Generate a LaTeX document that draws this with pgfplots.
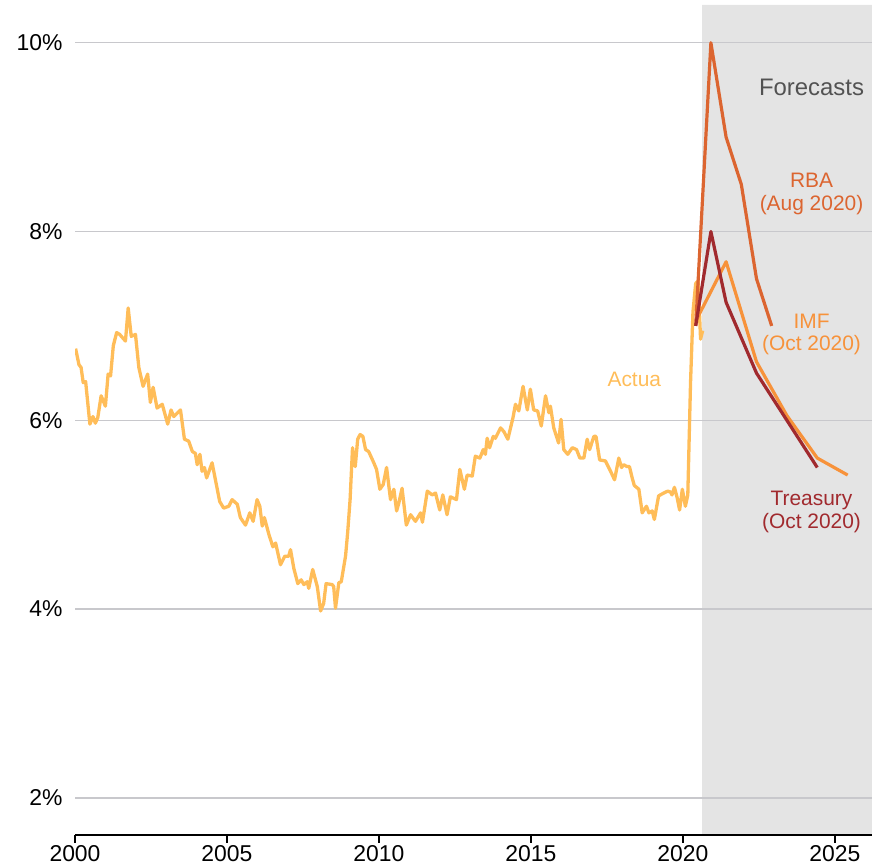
\documentclass[border=0pt]{standalone}
\usepackage{pgfplots}
\pgfplotsset{compat=1.18}
\usepackage{pgfplotstable}
\usepackage{fontspec}
\setmainfont{Liberation Sans}
\definecolor{actual}{HTML}{FFBD59}
\definecolor{imf}{HTML}{F7923A}
\definecolor{rba}{HTML}{DC6530}
\definecolor{treas}{HTML}{A12A2E}
\definecolor{shade}{HTML}{E4E4E4}
\definecolor{gridc}{HTML}{C8C8CC}
\pgfplotstableread{
x y
2000.02 6.76
2000.13 6.59
2000.20 6.56
2000.27 6.40
2000.35 6.41
2000.49 5.96
2000.59 6.04
2000.67 5.97
2000.75 6.03
2000.86 6.26
2001.00 6.15
2001.09 6.49
2001.17 6.47
2001.26 6.79
2001.37 6.93
2001.47 6.91
2001.66 6.84
2001.75 7.19
2001.85 6.89
2001.99 6.91
2002.10 6.56
2002.24 6.36
2002.39 6.49
2002.48 6.19
2002.57 6.35
2002.70 6.13
2002.87 6.17
2003.05 5.96
2003.16 6.11
2003.25 6.04
2003.47 6.11
2003.60 5.80
2003.74 5.78
2003.86 5.67
2003.96 5.65
2004.02 5.53
2004.11 5.64
2004.18 5.46
2004.26 5.50
2004.33 5.39
2004.51 5.55
2004.76 5.14
2004.89 5.07
2005.06 5.09
2005.17 5.16
2005.34 5.11
2005.44 4.97
2005.61 4.89
2005.75 5.02
2005.86 4.93
2005.99 5.16
2006.08 5.09
2006.16 4.88
2006.23 4.97
2006.38 4.79
2006.51 4.66
2006.60 4.70
2006.76 4.47
2006.90 4.56
2007.03 4.56
2007.09 4.63
2007.20 4.43
2007.33 4.27
2007.44 4.31
2007.53 4.26
2007.64 4.29
2007.69 4.22
2007.82 4.42
2007.97 4.24
2008.08 3.98
2008.18 4.06
2008.26 4.27
2008.46 4.26
2008.51 4.24
2008.57 4.01
2008.68 4.28
2008.76 4.29
2008.90 4.56
2008.97 4.81
2009.05 5.16
2009.13 5.71
2009.22 5.51
2009.30 5.80
2009.38 5.85
2009.47 5.83
2009.56 5.69
2009.66 5.67
2009.83 5.55
2009.92 5.48
2010.03 5.27
2010.14 5.32
2010.25 5.50
2010.38 5.16
2010.49 5.27
2010.58 5.04
2010.65 5.12
2010.76 5.28
2010.90 4.89
2011.04 5.00
2011.20 4.93
2011.37 5.02
2011.43 4.92
2011.59 5.25
2011.75 5.21
2011.86 5.23
2012.00 5.05
2012.10 5.21
2012.24 5.00
2012.35 5.19
2012.55 5.16
2012.66 5.48
2012.81 5.27
2012.90 5.42
2013.07 5.41
2013.17 5.62
2013.32 5.60
2013.43 5.69
2013.50 5.64
2013.56 5.81
2013.64 5.71
2013.76 5.83
2013.83 5.81
2014.00 5.92
2014.11 5.88
2014.24 5.80
2014.41 6.03
2014.49 6.17
2014.60 6.10
2014.74 6.36
2014.88 6.11
2014.98 6.33
2015.09 6.11
2015.22 6.10
2015.34 5.94
2015.48 6.26
2015.59 6.08
2015.64 6.15
2015.75 5.92
2015.91 5.76
2015.99 6.01
2016.08 5.69
2016.21 5.64
2016.36 5.71
2016.50 5.69
2016.61 5.60
2016.74 5.60
2016.85 5.80
2016.93 5.69
2017.07 5.83
2017.14 5.83
2017.26 5.58
2017.45 5.57
2017.62 5.46
2017.75 5.37
2017.89 5.60
2017.98 5.50
2018.05 5.53
2018.16 5.51
2018.24 5.51
2018.33 5.39
2018.40 5.31
2018.55 5.27
2018.66 5.02
2018.80 5.09
2018.88 5.02
2018.99 5.04
2019.06 4.95
2019.20 5.20
2019.37 5.23
2019.50 5.25
2019.59 5.24
2019.64 5.21
2019.72 5.29
2019.81 5.18
2019.89 5.05
2019.98 5.27
2020.08 5.09
2020.16 5.21
2020.25 6.40
2020.33 7.15
2020.42 7.45
2020.50 7.48
2020.58 6.86
2020.65 6.95
}\actualdata
\pgfplotstableread{
x y
2020.42 7.0
2020.92 10.0
2021.42 9.0
2021.92 8.5
2022.42 7.5
2022.92 7.0
}\rbadata
\pgfplotstableread{
x y
2020.42 7.05
2021.42 7.68
2022.42 6.62
2023.42 6.05
2024.42 5.60
2025.42 5.42
}\imfdata
\pgfplotstableread{
x y
2020.42 7.0
2020.92 8.0
2021.42 7.25
2022.42 6.5
2023.42 6.0
2024.42 5.5
}\treasdata
\begin{document}
\begin{tikzpicture}
\begin{axis}[
  at={(0,0)}, anchor=south west,
  scale only axis, width=797bp, height=830bp,
  set layers,
  xmin=2000, xmax=2026.22, ymin=1.607, ymax=10.40,
  axis x line*=bottom, axis y line*=left,
  y axis line style={draw=none},
  x axis line style={black, line width=1.4bp, -},
  xtick={2000,2005,...,2025},
  xticklabels={2000,2005,2010,2015,2020,2025},
  ytick={2,4,6,8,10},
  yticklabels={2\%,4\%,6\%,8\%,10\%},
  tick align=outside,
  major tick length=8bp,
  xtick style={black, line width=1.4bp},
  ytick style={draw=none},
  ymajorgrids, grid style={gridc, line width=1.3bp},
  /pgf/number format/assume math mode=true,
  ticklabel style={font=\fontsize{23}{25}\selectfont, text=black},
  yticklabel style={xshift=-1bp},
  xticklabel style={yshift=1bp},
]
\addplot[on layer=axis background, fill=shade, draw=none] coordinates {(2020.63,1.607) (2020.63,10.40) (2026.22,10.40) (2026.22,1.607)} \closedcycle;
\addplot[actual, line width=3.3bp, line join=round] table[x=x,y=y] {\actualdata};
\addplot[imf, line width=3.2bp, line join=round] table[x=x,y=y] {\imfdata};
\addplot[rba, line width=3.2bp, line join=round] table[x=x,y=y] {\rbadata};
\addplot[treas, line width=3.2bp, line join=round] table[x=x,y=y] {\treasdata};
\node[font=\fontsize{24}{26}\selectfont, text=black!68] at (axis cs:2024.23,9.53) {Forecasts};
\node[font=\fontsize{21}{22.5}\selectfont, text=rba, align=center] at (axis cs:2024.23,8.40) {RBA\\(Aug 2020)};
\node[font=\fontsize{21}{22.5}\selectfont, text=imf, align=center] at (axis cs:2024.23,6.91) {IMF\\(Oct 2020)};
\node[font=\fontsize{21}{22.5}\selectfont, text=treas, align=center] at (axis cs:2024.23,5.03) {Treasury\\(Oct 2020)};
\node[font=\fontsize{21}{22.5}\selectfont, text=actual] at (axis cs:2018.40,6.435) {Actua};
\end{axis}
\pgfresetboundingbox
\useasboundingbox (-75bp,-33bp) rectangle (797bp,835bp);
\end{tikzpicture}
\end{document}
